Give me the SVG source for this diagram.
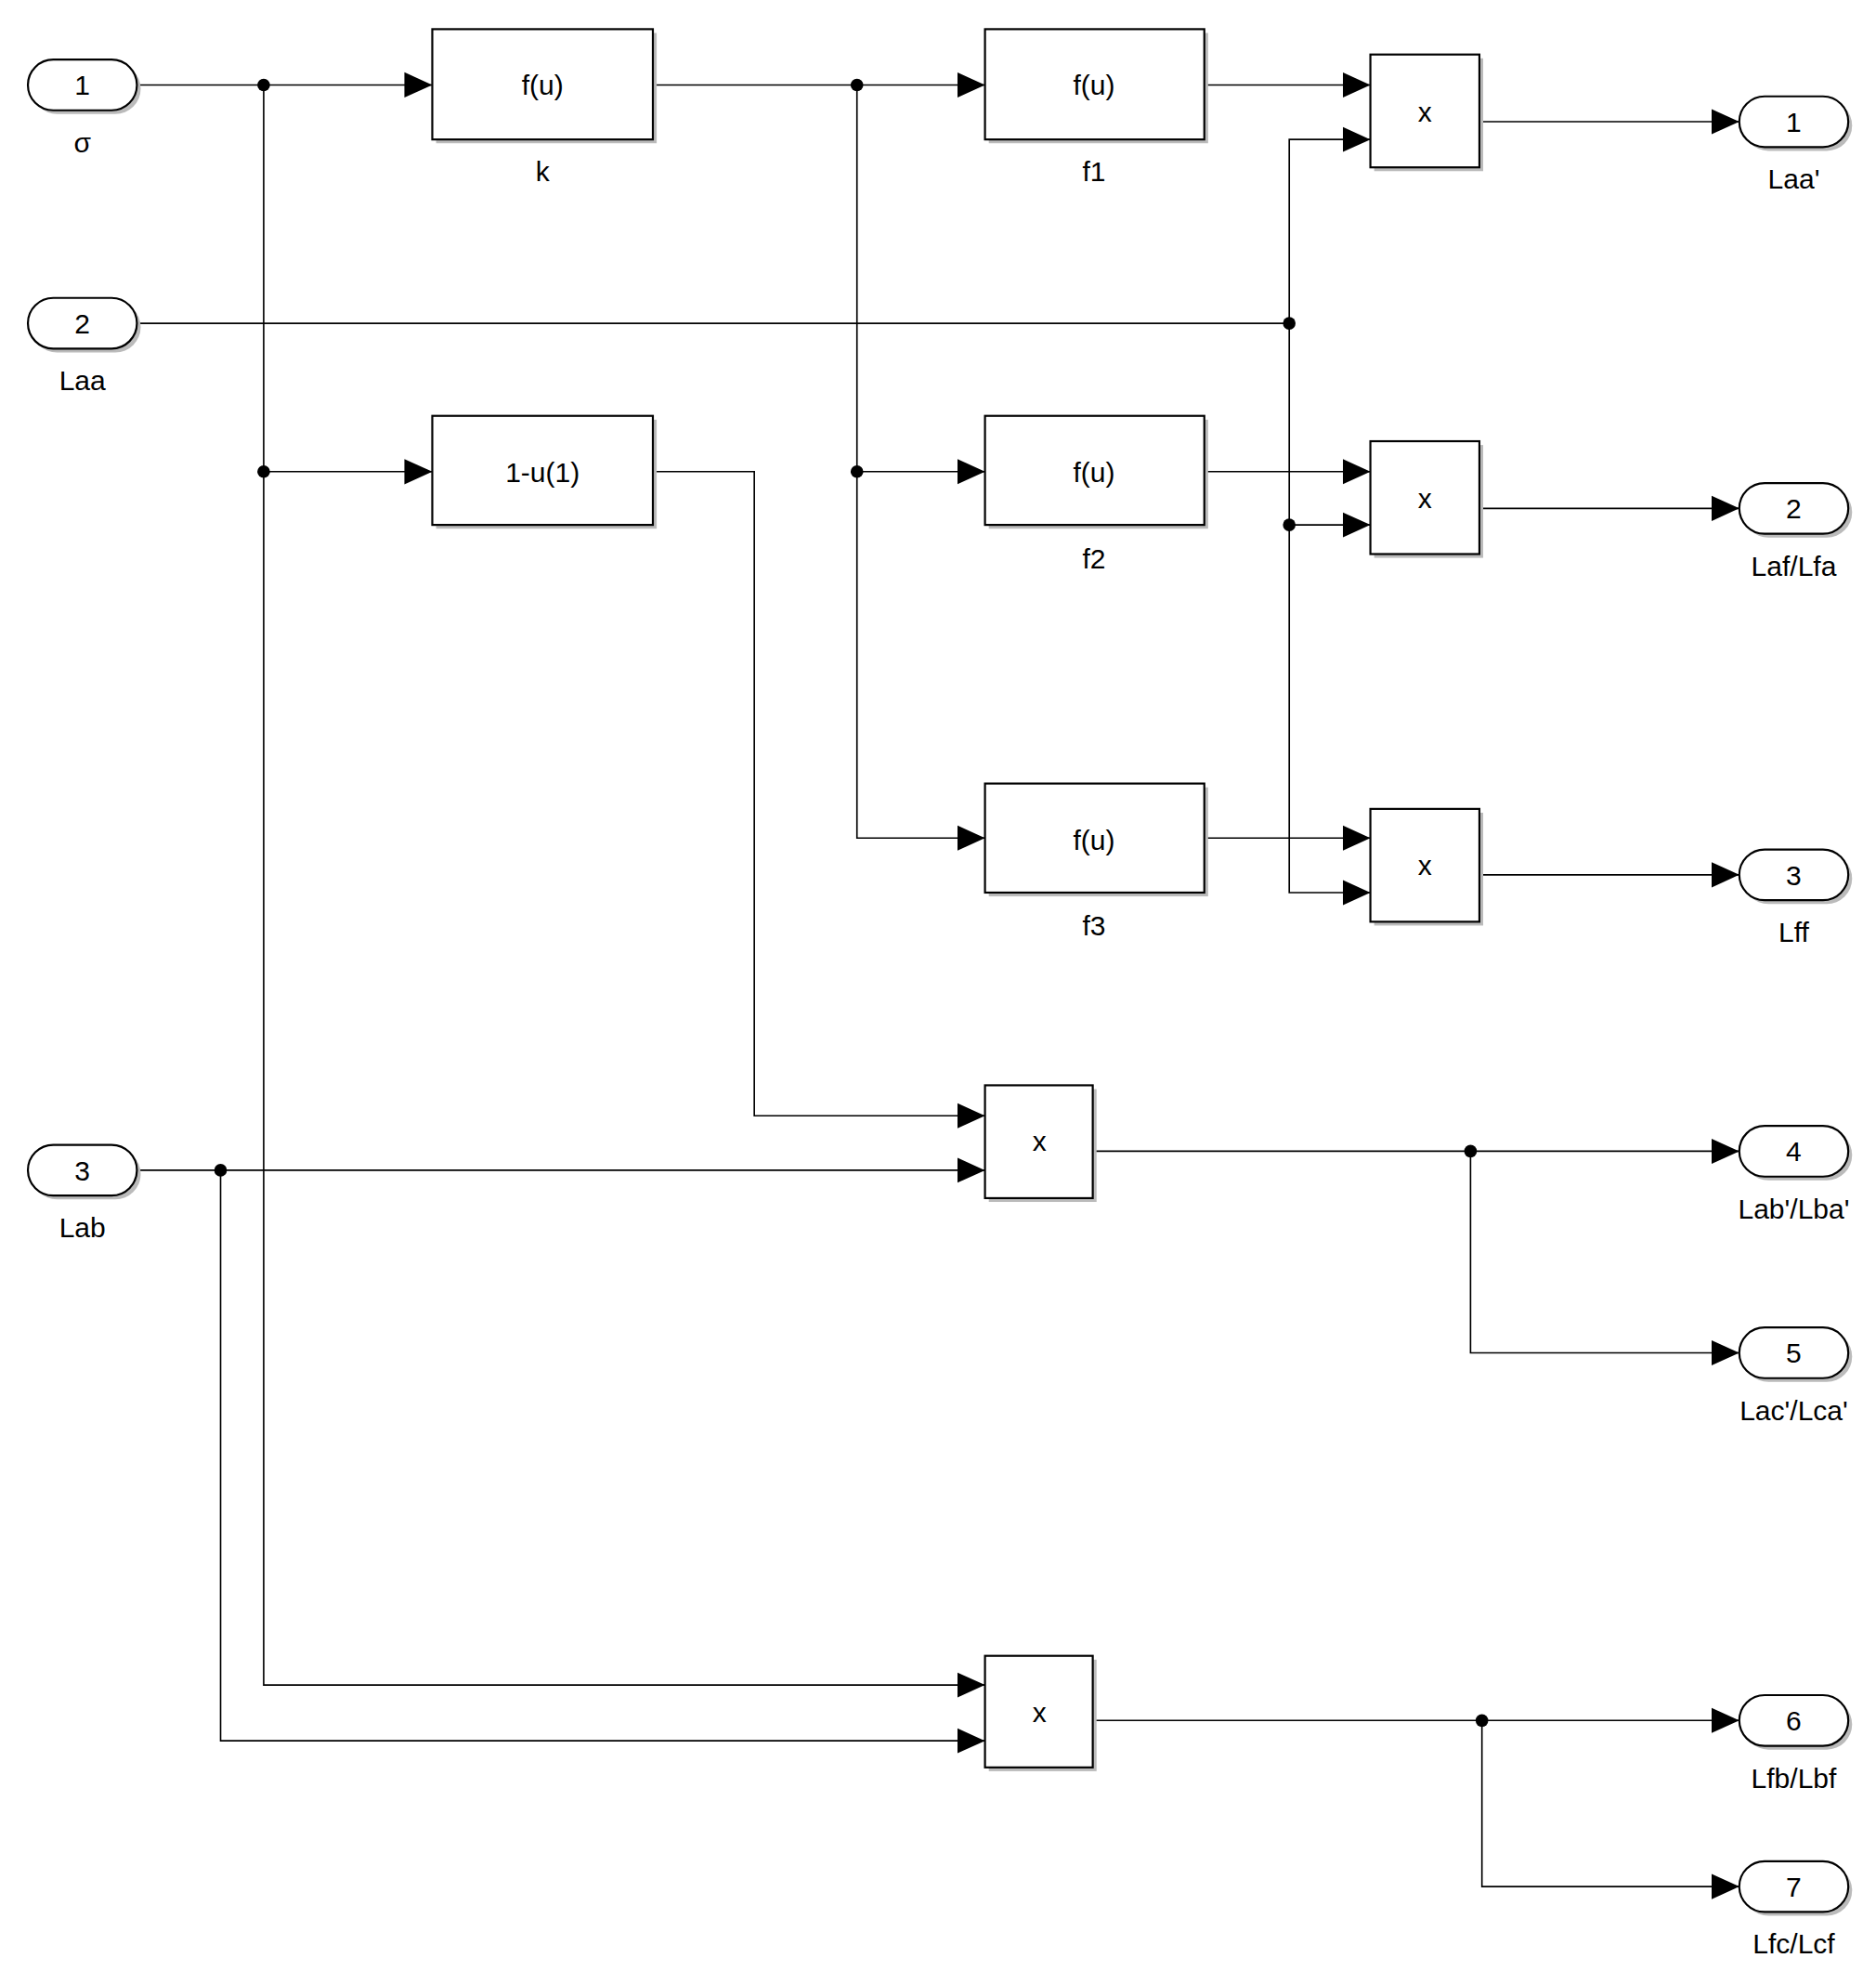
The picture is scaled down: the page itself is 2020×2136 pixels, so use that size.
<svg xmlns="http://www.w3.org/2000/svg" width="2020" height="2136" viewBox="0 0 2020 2136">
<style>
.b{fill:#fff;stroke:#000;stroke-width:1.6}
.sh{fill:#bbb;stroke:none}
.w{fill:none;stroke:#000;stroke-width:1.2}
.t{font-family:"Liberation Sans",Arial,sans-serif;font-size:22px;text-anchor:middle;fill:#000}
.d{fill:#000}
</style>
<defs>
<marker id="a" markerUnits="userSpaceOnUse" markerWidth="24" markerHeight="22" viewBox="0 0 24 22" refX="22" refY="11" orient="auto"><path d="M0,1 L22,11 L0,21 Z" fill="#000"/></marker>
</defs>
<rect width="2020" height="2136" fill="#fff"/>
<g transform="scale(1.365)">
<g id="connectors">
<path class="w" marker-end="url(#a)" d="M108,67 H341"/>
<path class="w" marker-end="url(#a)" d="M208,67 V372 H341"/>
<path class="w" marker-end="url(#a)" d="M208,372 V1329 H777"/>
<path class="w" marker-end="url(#a)" d="M515,67 H777"/>
<path class="w" marker-end="url(#a)" d="M676,67 V372 H777"/>
<path class="w" marker-end="url(#a)" d="M676,372 V661 H777"/>
<path class="w" marker-end="url(#a)" d="M950,67 H1081"/>
<path class="w" marker-end="url(#a)" d="M950,372 H1081"/>
<path class="w" marker-end="url(#a)" d="M950,661 H1081"/>
<path class="w" d="M108,255 H1017"/>
<path class="w" marker-end="url(#a)" d="M1017,255 V110 H1081"/>
<path class="w" marker-end="url(#a)" d="M1017,255 V414 H1081"/>
<path class="w" marker-end="url(#a)" d="M1017,414 V704 H1081"/>
<path class="w" marker-end="url(#a)" d="M515,372 H595 V880 H777"/>
<path class="w" marker-end="url(#a)" d="M108,923 H777"/>
<path class="w" marker-end="url(#a)" d="M174,923 V1373 H777"/>
<path class="w" marker-end="url(#a)" d="M1167,96 H1372"/>
<path class="w" marker-end="url(#a)" d="M1167,401 H1372"/>
<path class="w" marker-end="url(#a)" d="M1167,690 H1372"/>
<path class="w" marker-end="url(#a)" d="M862,908 H1372"/>
<path class="w" marker-end="url(#a)" d="M1160,908 V1067 H1372"/>
<path class="w" marker-end="url(#a)" d="M862,1357 H1372"/>
<path class="w" marker-end="url(#a)" d="M1169,1357 V1488 H1372"/>
<circle class="d" cx="208" cy="67" r="5"/>
<circle class="d" cx="208" cy="372" r="5"/>
<circle class="d" cx="676" cy="67" r="5"/>
<circle class="d" cx="676" cy="372" r="5"/>
<circle class="d" cx="1017" cy="255" r="5"/>
<circle class="d" cx="1017" cy="414" r="5"/>
<circle class="d" cx="174" cy="923" r="5"/>
<circle class="d" cx="1160" cy="908" r="5"/>
<circle class="d" cx="1169" cy="1357" r="5"/>
</g>
<g id="in1"><rect class="sh" x="25" y="50" width="86" height="40" rx="20"/><rect class="b" x="22" y="47" width="86" height="40" rx="20"/><text class="t" x="65" y="75">1</text><text class="t" x="65" y="120">σ</text></g>
<g id="in2"><rect class="sh" x="25" y="238" width="86" height="40" rx="20"/><rect class="b" x="22" y="235" width="86" height="40" rx="20"/><text class="t" x="65" y="263">2</text><text class="t" x="65" y="308">Laa</text></g>
<g id="in3"><rect class="sh" x="25" y="906" width="86" height="40" rx="20"/><rect class="b" x="22" y="903" width="86" height="40" rx="20"/><text class="t" x="65" y="931">3</text><text class="t" x="65" y="976">Lab</text></g>
<g id="k"><rect class="sh" x="344" y="26" width="174" height="87"/><rect class="b" x="341" y="23" width="174" height="87"/><text class="t" x="428" y="75">f(u)</text><text class="t" x="428" y="143">k</text></g>
<g id="oneminus"><rect class="sh" x="344" y="331" width="174" height="86"/><rect class="b" x="341" y="328" width="174" height="86"/><text class="t" x="428" y="380">1-u(1)</text></g>
<g id="f1"><rect class="sh" x="780" y="26" width="173" height="87"/><rect class="b" x="777" y="23" width="173" height="87"/><text class="t" x="863" y="75">f(u)</text><text class="t" x="863" y="143">f1</text></g>
<g id="f2"><rect class="sh" x="780" y="331" width="173" height="86"/><rect class="b" x="777" y="328" width="173" height="86"/><text class="t" x="863" y="380">f(u)</text><text class="t" x="863" y="448">f2</text></g>
<g id="f3"><rect class="sh" x="780" y="621" width="173" height="86"/><rect class="b" x="777" y="618" width="173" height="86"/><text class="t" x="863" y="670">f(u)</text><text class="t" x="863" y="738">f3</text></g>
<g id="p1"><rect class="sh" x="1084" y="46" width="86" height="89"/><rect class="b" x="1081" y="43" width="86" height="89"/><text class="t" x="1124" y="96">x</text></g>
<g id="p2"><rect class="sh" x="1084" y="351" width="86" height="89"/><rect class="b" x="1081" y="348" width="86" height="89"/><text class="t" x="1124" y="401">x</text></g>
<g id="p3"><rect class="sh" x="1084" y="641" width="86" height="89"/><rect class="b" x="1081" y="638" width="86" height="89"/><text class="t" x="1124" y="690">x</text></g>
<g id="p4"><rect class="sh" x="780" y="859" width="85" height="89"/><rect class="b" x="777" y="856" width="85" height="89"/><text class="t" x="820" y="908">x</text></g>
<g id="p5"><rect class="sh" x="780" y="1309" width="85" height="88"/><rect class="b" x="777" y="1306" width="85" height="88"/><text class="t" x="820" y="1358">x</text></g>
<g id="out1"><rect class="sh" x="1375" y="79" width="86" height="40" rx="20"/><rect class="b" x="1372" y="76" width="86" height="40" rx="20"/><text class="t" x="1415" y="104">1</text><text class="t" x="1415" y="149">Laa'</text></g>
<g id="out2"><rect class="sh" x="1375" y="384" width="86" height="40" rx="20"/><rect class="b" x="1372" y="381" width="86" height="40" rx="20"/><text class="t" x="1415" y="409">2</text><text class="t" x="1415" y="454">Laf/Lfa</text></g>
<g id="out3"><rect class="sh" x="1375" y="673" width="86" height="40" rx="20"/><rect class="b" x="1372" y="670" width="86" height="40" rx="20"/><text class="t" x="1415" y="698">3</text><text class="t" x="1415" y="743">Lff</text></g>
<g id="out4"><rect class="sh" x="1375" y="891" width="86" height="40" rx="20"/><rect class="b" x="1372" y="888" width="86" height="40" rx="20"/><text class="t" x="1415" y="916">4</text><text class="t" x="1415" y="961">Lab'/Lba'</text></g>
<g id="out5"><rect class="sh" x="1375" y="1050" width="86" height="40" rx="20"/><rect class="b" x="1372" y="1047" width="86" height="40" rx="20"/><text class="t" x="1415" y="1075">5</text><text class="t" x="1415" y="1120">Lac'/Lca'</text></g>
<g id="out6"><rect class="sh" x="1375" y="1340" width="86" height="40" rx="20"/><rect class="b" x="1372" y="1337" width="86" height="40" rx="20"/><text class="t" x="1415" y="1365">6</text><text class="t" x="1415" y="1410">Lfb/Lbf</text></g>
<g id="out7"><rect class="sh" x="1375" y="1471" width="86" height="40" rx="20"/><rect class="b" x="1372" y="1468" width="86" height="40" rx="20"/><text class="t" x="1415" y="1496">7</text><text class="t" x="1415" y="1541">Lfc/Lcf</text></g>
</g>
</svg>
